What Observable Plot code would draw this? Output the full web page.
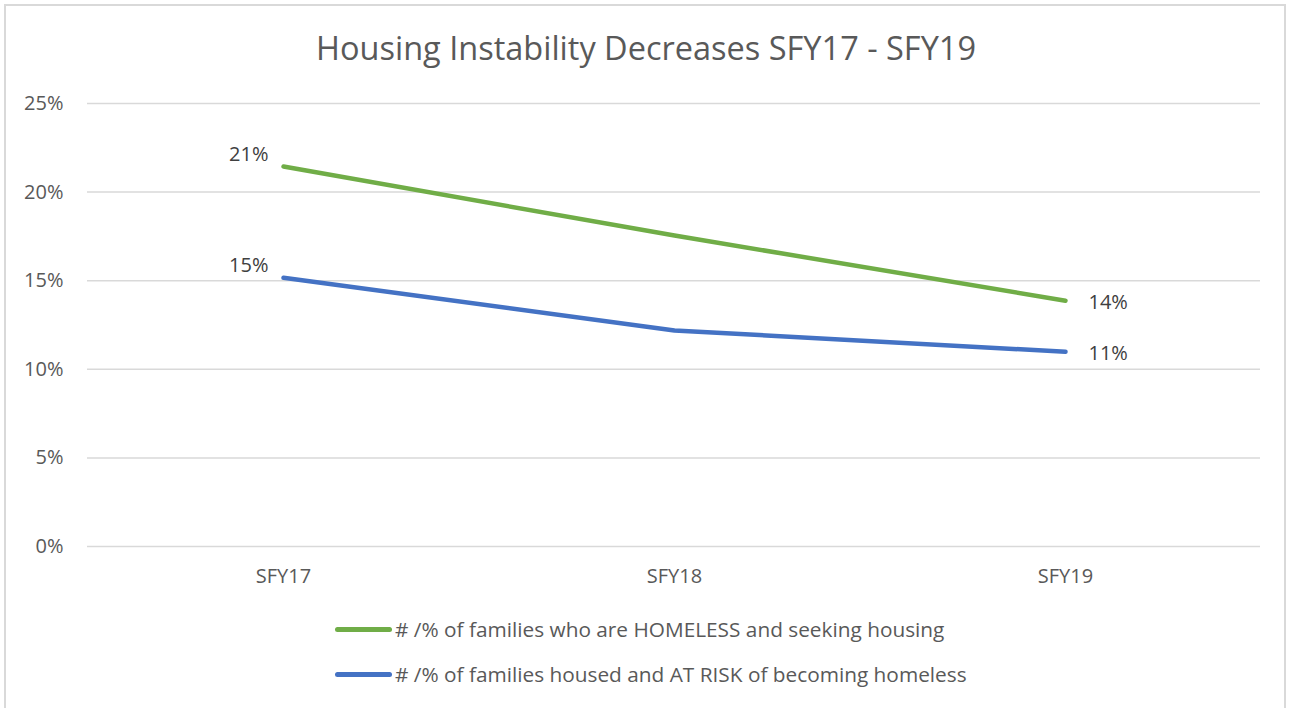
<!DOCTYPE html>
<html>
<head>
<meta charset="utf-8">
<script src="https://cdn.jsdelivr.net/npm/d3@7"></script>
<script src="https://cdn.jsdelivr.net/npm/@observablehq/plot@0.6"></script>
<style>
  html, body { margin: 0; padding: 0; background: #fff; }
  #chart { position: relative; width: 1290px; height: 708px; overflow: hidden; font-family: "Open Sans", sans-serif; color: #595959; }
  #frame { position: absolute; left: 4px; top: 4px; width: 1282px; height: 720px; border: 2px solid #d9d9d9; box-sizing: border-box; }
  #title { position: absolute; top: 27px; left: 0; width: 1292px; text-align: center; font-size: 32.5px; line-height: 42px; }
  #plot { position: absolute; left: 0; top: 80px; }
  .leg { position: absolute; left: 335px; font-size: 20.8px; line-height: 28px; white-space: nowrap; display: flex; align-items: center; }
  .sw { display: inline-block; width: 57px; height: 5px; border-radius: 3px; margin-right: 3px; }
</style>
</head>
<body>
<div id="chart">
  <div id="frame"></div>
  <div id="title"></div>
  <div id="plot"></div>
  <div id="legend"></div>
</div>
<script>
const title = "Housing Instability Decreases SFY17 - SFY19";
const categories = ["SFY17", "SFY18", "SFY19"];
const seriesNames = [
  "# /% of families who are HOMELESS and seeking housing",
  "# /% of families housed and AT RISK of becoming homeless"
];
const homeless = [0.2144, 0.1755, 0.1387];
const atRisk = [0.1517, 0.1219, 0.1099];
const seriesColors = ["#70AD47", "#4472C4"];
const yTicks = [0, 0.05, 0.10, 0.15, 0.20, 0.25];

const rows = [];
[homeless, atRisk].forEach((vals, si) => {
  vals.forEach((v, i) => rows.push({series: seriesNames[si], cat: categories[i], value: v, idx: i}));
});
const firstPts = rows.filter(d => d.idx === 0);
const lastPts = rows.filter(d => d.idx === categories.length - 1);
const fmt = d3.format(".0%");

document.getElementById("title").textContent = title;

const chart = Plot.plot({
  width: 1290,
  height: 516,
  marginTop: 23,
  marginBottom: 50,
  marginLeft: 87,
  marginRight: 30,
  style: {fontFamily: "Open Sans, sans-serif", fontSize: "20px", color: "#595959", background: "transparent"},
  x: {type: "point", domain: categories, padding: 0.5, label: null},
  y: {domain: [0, 0.25], label: null},
  color: {domain: seriesNames, range: seriesColors},
  marks: [
    Plot.ruleY(yTicks, {stroke: "#d9d9d9", strokeWidth: 1.5}),
    Plot.axisY({ticks: yTicks, tickFormat: fmt, tickSize: 0, tickPadding: 24, label: null}),
    Plot.axisX({tickSize: 0, tickPadding: 22, label: null}),
    Plot.line(rows, {x: "cat", y: "value", z: "series", stroke: "series", strokeWidth: 4.5, strokeLinecap: "round", strokeLinejoin: "round"}),
    Plot.text(firstPts, {x: "cat", y: "value", text: d => fmt(d.value), textAnchor: "end", dx: -15, dy: -12, fill: "#404040", fontSize: 20}),
    Plot.text(lastPts, {x: "cat", y: "value", text: d => fmt(d.value), textAnchor: "start", dx: 23, dy: 2, fill: "#404040", fontSize: 20})
  ]
});
document.getElementById("plot").appendChild(chart);

const legend = document.getElementById("legend");
const legTops = [615, 660];
seriesNames.forEach((name, i) => {
  const div = document.createElement("div");
  div.className = "leg";
  div.style.top = legTops[i] + "px";
  const sw = document.createElement("span");
  sw.className = "sw";
  sw.style.background = seriesColors[i];
  div.appendChild(sw);
  div.appendChild(document.createTextNode(name));
  legend.appendChild(div);
});
</script>
</body>
</html>
